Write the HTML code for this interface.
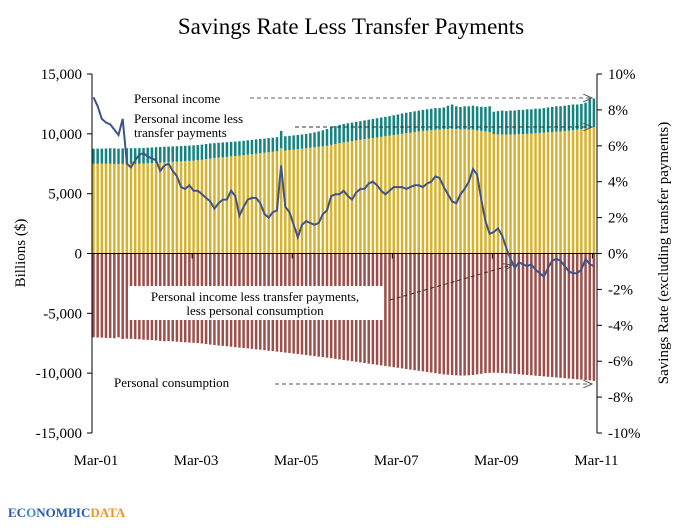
<!DOCTYPE html>
<html><head><meta charset="utf-8"><style>
body{margin:0;background:#fff;}
svg text{font-family:"Liberation Serif",serif;fill:#000;}
</style></head><body>
<svg id="c" width="697" height="523" viewBox="0 0 697 523" xmlns="http://www.w3.org/2000/svg">
<defs><marker id="ar" markerWidth="10" markerHeight="8" refX="9" refY="4" orient="auto" markerUnits="userSpaceOnUse"><path d="M0,0 L9,4 L0,8" fill="none" stroke="#555" stroke-width="1"/></marker></defs>
<text x="351" y="34" text-anchor="middle" font-size="23">Savings Rate Less Transfer Payments</text>
<g id="bars"></g>
<g id="axes"></g>
<path id="line" fill="none" stroke="#3F5587" stroke-width="2"/>
<g>
<text x="134" y="103" font-size="13">Personal income</text>
<line x1="250" y1="98" x2="592" y2="98" stroke="#666" stroke-dasharray="4,3" marker-end="url(#ar)"/>
<text x="134" y="123" font-size="13">Personal income less</text>
<text x="134" y="137" font-size="13">transfer payments</text>
<line x1="295" y1="127" x2="592" y2="127" stroke="#333" stroke-dasharray="4,3" marker-end="url(#ar)"/>
<rect x="128" y="286" width="256" height="34" fill="#fff"/>
<text x="255" y="301" text-anchor="middle" font-size="13">Personal income  less transfer payments,</text>
<text x="255" y="315" text-anchor="middle" font-size="13">less personal consumption</text>
<line x1="390" y1="300" x2="512" y2="265" stroke="#333" stroke-dasharray="4,3" marker-end="url(#ar)"/>
<rect x="110" y="373" width="136" height="16" fill="#fff"/>
<text x="114" y="387" font-size="13">Personal consumption</text>
<line x1="275" y1="384" x2="592" y2="384" stroke="#555" stroke-dasharray="4,3" marker-end="url(#ar)"/>
</g>
<text transform="translate(25,253) rotate(-90)" text-anchor="middle" font-size="15">Billions ($)</text>
<text transform="translate(668,253) rotate(-90)" text-anchor="middle" font-size="15">Savings Rate (excluding transfer payments)</text>
<g>
<text x="8" y="517" font-size="13" font-weight="bold" style="fill:#2A5DA8">EC<tspan style="fill:#3a8fd0">O</tspan>NOMPIC<tspan style="fill:#E39A2A">DATA</tspan></text>
</g>
</svg>
<script>
const income=[8750,8760,8770,8780,8800,8790,8760,8780,8800,8800,8800,8810,
8820,8840,8860,8880,8900,8920,8930,8950,8960,8980,9000,9020,
9040,9060,9100,9150,9200,9220,9250,9280,9300,9330,9350,9380,
9420,9460,9500,9540,9570,9600,9640,9680,9720,10250,9800,9830,
9870,9910,9950,9990,10050,10120,10200,10300,10400,10550,10650,10750,
10820,10880,10940,11000,11060,11120,11180,11240,11300,11360,11420,11480,
11550,11620,11700,11760,11820,11880,11940,12000,12050,12100,12150,12150,
12200,12350,12450,12300,12250,12300,12300,12350,12300,12250,12250,12300,
11850,11900,11950,11900,11950,11950,12000,12000,12050,12050,12100,12100,
12150,12200,12250,12300,12300,12350,12400,12450,12450,12500,12600,12900,12950];
const lessTransfers=[7500,7500,7510,7500,7500,7490,7480,7490,7500,7500,7490,7500,
7520,7540,7560,7580,7600,7620,7640,7660,7680,7700,7720,7740,
7760,7790,7830,7880,7930,7970,8010,8040,8080,8120,8150,8180,
8220,8260,8300,8340,8380,8420,8460,8500,8540,8800,8600,8640,
8680,8720,8760,8800,8840,8880,8920,8960,9000,9080,9150,9220,
9280,9340,9400,9450,9500,9550,9600,9650,9700,9750,9800,9850,
9900,9950,10000,10050,10100,10150,10200,10250,10280,10300,10330,10350,
10380,10400,10420,10400,10380,10380,10350,10350,10300,10250,10200,10150,
9980,9950,9950,9930,9950,9950,9970,9980,10000,10020,10050,10080,
10100,10130,10150,10180,10200,10230,10260,10300,10350,10400,10450,10500,10550];
const consumption=[-7000,-7020,-7030,-7050,-7060,-7080,-7000,-7150,-7120,-7130,-7150,-7170,
-7200,-7220,-7240,-7260,-7300,-7330,-7320,-7340,-7370,-7400,-7420,-7440,
-7460,-7480,-7520,-7570,-7610,-7650,-7690,-7720,-7750,-7790,-7830,-7870,
-7900,-7930,-7970,-8010,-8040,-8080,-8120,-8160,-8200,-8240,-8280,-8320,
-8360,-8400,-8440,-8480,-8530,-8580,-8620,-8660,-8700,-8750,-8800,-8850,
-8900,-8950,-9000,-9050,-9100,-9150,-9200,-9250,-9300,-9350,-9400,-9450,
-9500,-9550,-9600,-9650,-9700,-9750,-9800,-9850,-9900,-9950,-10000,-10050,
-10100,-10130,-10160,-10180,-10200,-10200,-10180,-10150,-10100,-10050,-10000,-9980,
-9960,-9970,-9990,-10010,-10030,-10060,-10090,-10120,-10150,-10180,-10210,-10240,
-10270,-10300,-10330,-10360,-10390,-10420,-10450,-10480,-10510,-10540,-10570,-10600,-10650];
const savingsRate=[8.7,8.2,7.5,7.3,7.2,6.9,6.6,7.5,5.0,4.8,5.2,5.5,
5.6,5.4,5.3,5.2,4.6,4.9,5.0,4.6,4.3,3.7,3.6,3.8,
3.5,3.5,3.3,3.1,2.9,2.5,2.8,3.0,3.0,3.5,3.2,2.1,
2.6,3.0,3.1,3.1,2.8,2.2,2.0,2.3,2.4,4.9,2.6,2.3,
1.6,0.9,1.6,1.8,1.7,1.6,1.7,2.2,2.4,3.2,3.3,3.3,
3.5,3.2,3.0,3.4,3.6,3.6,3.9,4.0,3.8,3.5,3.3,3.5,
3.7,3.7,3.7,3.6,3.7,3.8,3.8,3.7,3.9,4.0,4.3,4.2,
3.7,3.3,2.9,2.8,3.3,3.6,4.0,4.7,4.4,3.0,1.8,1.1,
1.2,1.4,1.0,0.3,-0.3,-0.8,-0.5,-0.6,-0.7,-0.6,-0.9,-1.1,
-1.3,-0.8,-0.4,-0.3,-0.4,-0.7,-1.0,-1.1,-1.1,-0.9,-0.3,-0.6,-0.7];
const leftTicks=[15000,10000,5000,0,-5000,-10000,-15000];
const rightTicks=[10,8,6,4,2,0,-2,-4,-6,-8,-10];
const xLabels=["Mar-01","Mar-03","Mar-05","Mar-07","Mar-09","Mar-11"];

const NS="http://www.w3.org/2000/svg";
const X0=93.5, DX=4.17, TOP=74, BOT=433;
const xs=i=>X0+i*DX;
const yL=v=>TOP+(15000-v)/30000*(BOT-TOP);
const yR=v=>TOP+(10-v)/20*(BOT-TOP);
function mk(t,a,p){const e=document.createElementNS(NS,t);for(const k in a)e.setAttribute(k,a[k]);p.appendChild(e);return e;}
const bars=document.getElementById('bars'), axes=document.getElementById('axes');
const W=2.5;
income.forEach((v,i)=>{
  const x=xs(i)-W/2;
  let r=mk('rect',{x:x,y:yL(lessTransfers[i]),width:W,height:yL(0)-yL(lessTransfers[i]),fill:'#D6B22F'},bars);
  
  
  r=mk('rect',{x:x,y:yL(v),width:W,height:yL(lessTransfers[i])-yL(v),fill:'#13837F'},bars);
  
  
  r=mk('rect',{x:x,y:yL(0),width:W,height:yL(consumption[i])-yL(0),fill:'#9B4E4A'},bars);
  
  
});
document.getElementById('line').setAttribute('d',savingsRate.map((v,i)=>(i?'L':'M')+xs(i).toFixed(1)+','+yR(v).toFixed(1)).join(''));
let l=mk('line',{x1:92,y1:TOP,x2:92,y2:BOT,stroke:'#000'},axes);


l=mk('line',{x1:597,y1:TOP,x2:597,y2:BOT,stroke:'#000'},axes);


l=mk('line',{x1:92,y1:yL(0),x2:597,y2:yL(0),stroke:'#000'},axes);


leftTicks.forEach(v=>{
  const y=yL(v);
  mk('line',{x1:87,y1:y,x2:92,y2:y,stroke:'#000'},axes);
  const t=mk('text',{x:82,y:y+5,'text-anchor':'end','font-size':15},axes);
  t.textContent=v.toLocaleString('en-US');
  
  
});
rightTicks.forEach(v=>{
  const y=yR(v);
  mk('line',{x1:597,y1:y,x2:602,y2:y,stroke:'#000'},axes);
  const t=mk('text',{x:608,y:y+5,'font-size':15},axes);
  t.textContent=v+'%';
  
  
});
xLabels.forEach((s,k)=>{
  const x=xs(k*24)-1.5;
  mk('line',{x1:x,y1:yL(0),x2:x,y2:yL(0)+5,stroke:'#000'},axes);
  const t=mk('text',{x:x+4,y:465,'text-anchor':'middle','font-size':15},axes);
  t.textContent=s;
  
  
});
</script>
</body></html>
